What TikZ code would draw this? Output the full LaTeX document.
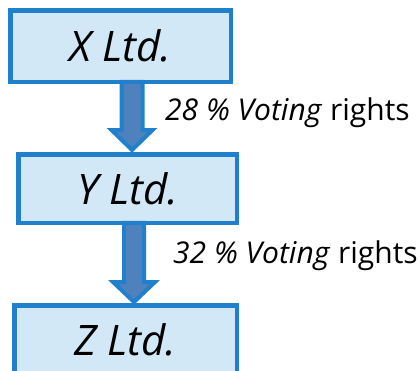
\documentclass[tikz,border=0pt]{standalone}
\usepackage{fontspec}
\setmainfont{Open Sans}
\usetikzlibrary{calc}
\definecolor{boxline}{RGB}{33,128,204}
\definecolor{boxfill}{RGB}{210,232,247}
\definecolor{arrowfill}{RGB}{79,129,189}
\begin{document}
\begin{tikzpicture}[x=1pt, y=-1pt,
	company/.style={draw=boxline, fill=boxfill, line width=4.5pt, inner sep=0pt,
		font=\fontsize{42}{50}\selectfont\itshape},
	blockarrow/.style={draw=boxline, fill=arrowfill, line width=4pt, line join=miter},
	share/.style={anchor=base west, inner sep=0pt, font=\fontsize{30}{36}\selectfont}]
			\useasboundingbox (0, 0) rectangle (420, 370);
			\clip (0, 0) rectangle (420, 370);
			% societa
			\node[company, minimum width=220.5, minimum height=71.5] (x) at (120.5, 46) {X Ltd.};
			\node[company, minimum width=218.5, minimum height=68.5] (y) at (127.5, 188.5) {Y Ltd.};
			\node[company, minimum width=222.5, minimum height=70] (z) at (125.5, 340.25) {Z Ltd.};
			% frecce
			\coordinate (a1) at ($(x.south) + (11.5, -2.25)$);
			\coordinate (b1) at ($(y.north) + (4.5, -2)$);
			\draw[blockarrow] (a1) ++(-10.5, 0) -- ++(0, 48.25) -- ++(-10, 0) -- (b1)
				-- ++(20.5, -20) -- ++(-10, 0) -- ++(0, -48.25) -- cycle;
			\coordinate (a2) at ($(y.south) + (6.5, -2.25)$);
			\coordinate (b2) at ($(z.north) + (8.5, -1)$);
			\draw[blockarrow] (a2) ++(-10, 0) -- ++(0, 59.25) -- ++(-11, 0) -- (b2)
				-- ++(21, -20) -- ++(-11, 0) -- ++(0, -59.25) -- cycle;
			% diritti di voto
			\node[share] (v1) at (165, 120) {\textit{28 \% Voting} rights};
			\node[share] (v2) at (173, 263) {\textit{32 \% Voting} rights};
		\end{tikzpicture}
\end{document}
